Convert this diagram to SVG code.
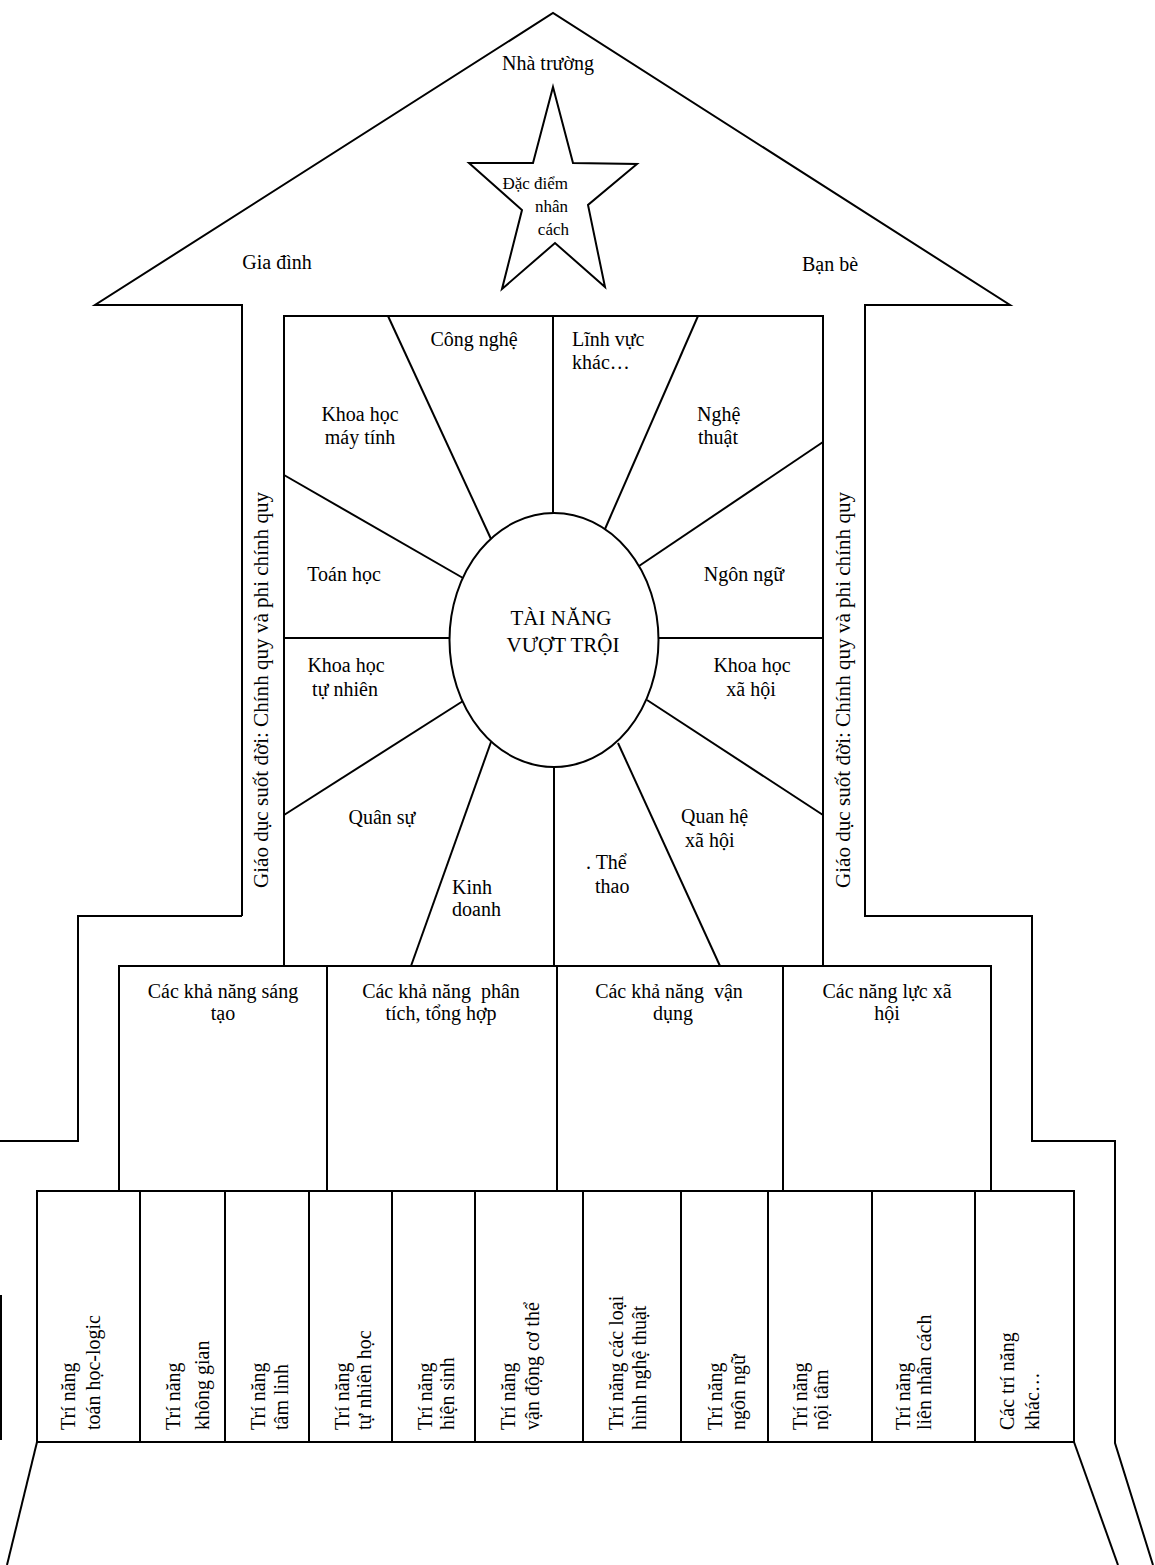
<svg xmlns="http://www.w3.org/2000/svg" width="1155" height="1565" viewBox="0 0 1155 1565">
<style>
.ln{fill:none;stroke:#000;stroke-width:2;stroke-linejoin:miter}
.bx{fill:#fff;stroke:#000;stroke-width:2}
.t{font-family:"Liberation Serif","Times New Roman",serif;font-size:20px;fill:#000}
.m{text-anchor:middle}
.s{font-size:17px}
.v{font-size:20px}
</style>
<rect width="1155" height="1565" fill="#fff"/>
<g id="outline">
<path class="ln" d="M242,916 L242,305 L95,305 L553,13 L1010,305 L865,305 L865,916 L1032,916 L1032,1141 L1115,1141 L1115,1443 L1153,1565"/>
<path class="ln" d="M242,916 L78,916 L78,1141 L0,1141"/>
<path class="ln" d="M1,1295 L1,1440"/>
<path class="ln" d="M37,1442 L7,1565"/>
<path class="ln" d="M1074,1442 L1118,1565"/>
</g>
<g id="roof-labels">
<text class="t m" x="548" y="70">Nhà trường</text>
<text class="t m" x="277" y="269">Gia đình</text>
<text class="t m" x="830" y="271">Bạn bè</text>
</g>
<g id="star">
<polygon class="bx" points="553,87 573,163 637,164 588,205 605,287 555,243 502,289 522,210 469,163 533,163"/>
<text class="t s" text-anchor="end" x="568" y="189">Đặc điểm</text>
<text class="t s" text-anchor="end" x="568" y="212">nhân</text>
<text class="t s" text-anchor="end" x="569" y="235">cách</text>
</g>
<g id="side-left">
<text class="t v m" transform="translate(268,690) rotate(-90)" textLength="396" lengthAdjust="spacingAndGlyphs">Giáo dục suốt đời: Chính quy và phi chính quy</text>
</g>
<g id="side-right">
<text class="t v m" transform="translate(850,690) rotate(-90)" textLength="396" lengthAdjust="spacingAndGlyphs">Giáo dục suốt đời: Chính quy và phi chính quy</text>
</g>
<g id="wheel">
<rect class="bx" x="284" y="316" width="539" height="650"/>
</g>
<g id="connectors">
<path class="ln" d="M553,316 L553,513"/>
<path class="ln" d="M554,767 L554,966"/>
<path class="ln" d="M388,316 L491,539"/>
<path class="ln" d="M698,316 L605,529"/>
<path class="ln" d="M284,475 L463,578"/>
<path class="ln" d="M823,442 L639,566"/>
<path class="ln" d="M284,638 L450,638"/>
<path class="ln" d="M658,638 L823,638"/>
<path class="ln" d="M284,815 L463,701"/>
<path class="ln" d="M647,700 L823,815"/>
<path class="ln" d="M491,742 L411,966"/>
<path class="ln" d="M618,743 L720,966"/>
</g>
<g id="center">
<ellipse class="bx" cx="554" cy="640" rx="104.5" ry="127"/>
<text class="t m" style="font-size:21px" x="561" y="625">TÀI NĂNG</text>
<text class="t m" style="font-size:21px" x="563" y="652">VƯỢT TRỘI</text>
</g>
<g id="fields">
<text class="t m" x="474" y="346">Công nghệ</text>
<text class="t" x="572" y="346">Lĩnh vực</text>
<text class="t" x="572" y="369">khác…</text>
<text class="t m" x="360" y="421">Khoa học</text>
<text class="t m" x="360" y="444">máy tính</text>
<text class="t" x="697" y="421">Nghệ</text>
<text class="t" x="698" y="444">thuật</text>
<text class="t m" x="344" y="581">Toán học</text>
<text class="t m" x="744" y="581">Ngôn ngữ</text>
<text class="t m" x="346" y="672">Khoa học</text>
<text class="t m" x="345" y="696">tự nhiên</text>
<text class="t m" x="752" y="672">Khoa học</text>
<text class="t m" x="751" y="696">xã hội</text>
<text class="t m" x="382" y="824">Quân sự</text>
<text class="t" x="681" y="823">Quan hệ</text>
<text class="t" x="685" y="847">xã hội</text>
<text class="t" x="452" y="894">Kinh</text>
<text class="t" x="452" y="916">doanh</text>
<text class="t" x="586" y="869">. Thể</text>
<text class="t" x="595" y="893">thao</text>
</g>
<g id="ability-1">
<rect class="bx" x="119" y="966" width="208" height="225"/>
<text class="t m" x="223" y="998">Các khả năng sáng</text>
<text class="t m" x="223" y="1020">tạo</text>
</g>
<g id="ability-2">
<rect class="bx" x="327" y="966" width="230" height="225"/>
<text class="t m" x="441" y="998" xml:space="preserve">Các khả năng  phân</text>
<text class="t m" x="441" y="1020">tích, tổng hợp</text>
</g>
<g id="ability-3">
<rect class="bx" x="557" y="966" width="226" height="225"/>
<text class="t m" x="669" y="998" xml:space="preserve">Các khả năng  vận</text>
<text class="t m" x="673" y="1020">dụng</text>
</g>
<g id="ability-4">
<rect class="bx" x="783" y="966" width="208" height="225"/>
<text class="t m" x="887" y="998">Các năng lực xã</text>
<text class="t m" x="887" y="1020">hội</text>
</g>
<g id="intel-1"><rect class="bx" x="37" y="1191" width="103" height="251"/>
<text class="t" transform="translate(75,1430) rotate(-90)">Trí năng</text>
<text class="t" transform="translate(100,1430) rotate(-90)">toán học-logic</text></g>
<g id="intel-2"><rect class="bx" x="140" y="1191" width="85" height="251"/>
<text class="t" transform="translate(180,1430) rotate(-90)">Trí năng</text>
<text class="t" transform="translate(209,1430) rotate(-90)">không gian</text></g>
<g id="intel-3"><rect class="bx" x="225" y="1191" width="84" height="251"/>
<text class="t" transform="translate(265,1430) rotate(-90)">Trí năng</text>
<text class="t" transform="translate(288,1430) rotate(-90)">tâm linh</text></g>
<g id="intel-4"><rect class="bx" x="309" y="1191" width="83" height="251"/>
<text class="t" transform="translate(349,1430) rotate(-90)">Trí năng</text>
<text class="t" transform="translate(371,1430) rotate(-90)">tự nhiên học</text></g>
<g id="intel-5"><rect class="bx" x="392" y="1191" width="83" height="251"/>
<text class="t" transform="translate(432,1430) rotate(-90)">Trí năng</text>
<text class="t" transform="translate(454,1430) rotate(-90)">hiện sinh</text></g>
<g id="intel-6"><rect class="bx" x="475" y="1191" width="108" height="251"/>
<text class="t" transform="translate(515,1430) rotate(-90)">Trí năng</text>
<text class="t" transform="translate(539,1430) rotate(-90)">vận động cơ thể</text></g>
<g id="intel-7"><rect class="bx" x="583" y="1191" width="98" height="251"/>
<text class="t" transform="translate(623,1430) rotate(-90)">Trí năng các loại</text>
<text class="t" transform="translate(646,1430) rotate(-90)">hình nghệ thuật</text></g>
<g id="intel-8"><rect class="bx" x="681" y="1191" width="87" height="251"/>
<text class="t" transform="translate(722,1430) rotate(-90)">Trí năng</text>
<text class="t" transform="translate(745,1430) rotate(-90)">ngôn ngữ</text></g>
<g id="intel-9"><rect class="bx" x="768" y="1191" width="104" height="251"/>
<text class="t" transform="translate(807,1430) rotate(-90)">Trí năng</text>
<text class="t" transform="translate(828,1430) rotate(-90)">nội tâm</text></g>
<g id="intel-10"><rect class="bx" x="872" y="1191" width="103" height="251"/>
<text class="t" transform="translate(910,1430) rotate(-90)">Trí năng</text>
<text class="t" transform="translate(931,1430) rotate(-90)">liên nhân cách</text></g>
<g id="intel-11"><rect class="bx" x="975" y="1191" width="99" height="251"/>
<text class="t" transform="translate(1014,1430) rotate(-90)">Các trí năng</text>
<text class="t" transform="translate(1039,1430) rotate(-90)">khác…</text></g>
</svg>
